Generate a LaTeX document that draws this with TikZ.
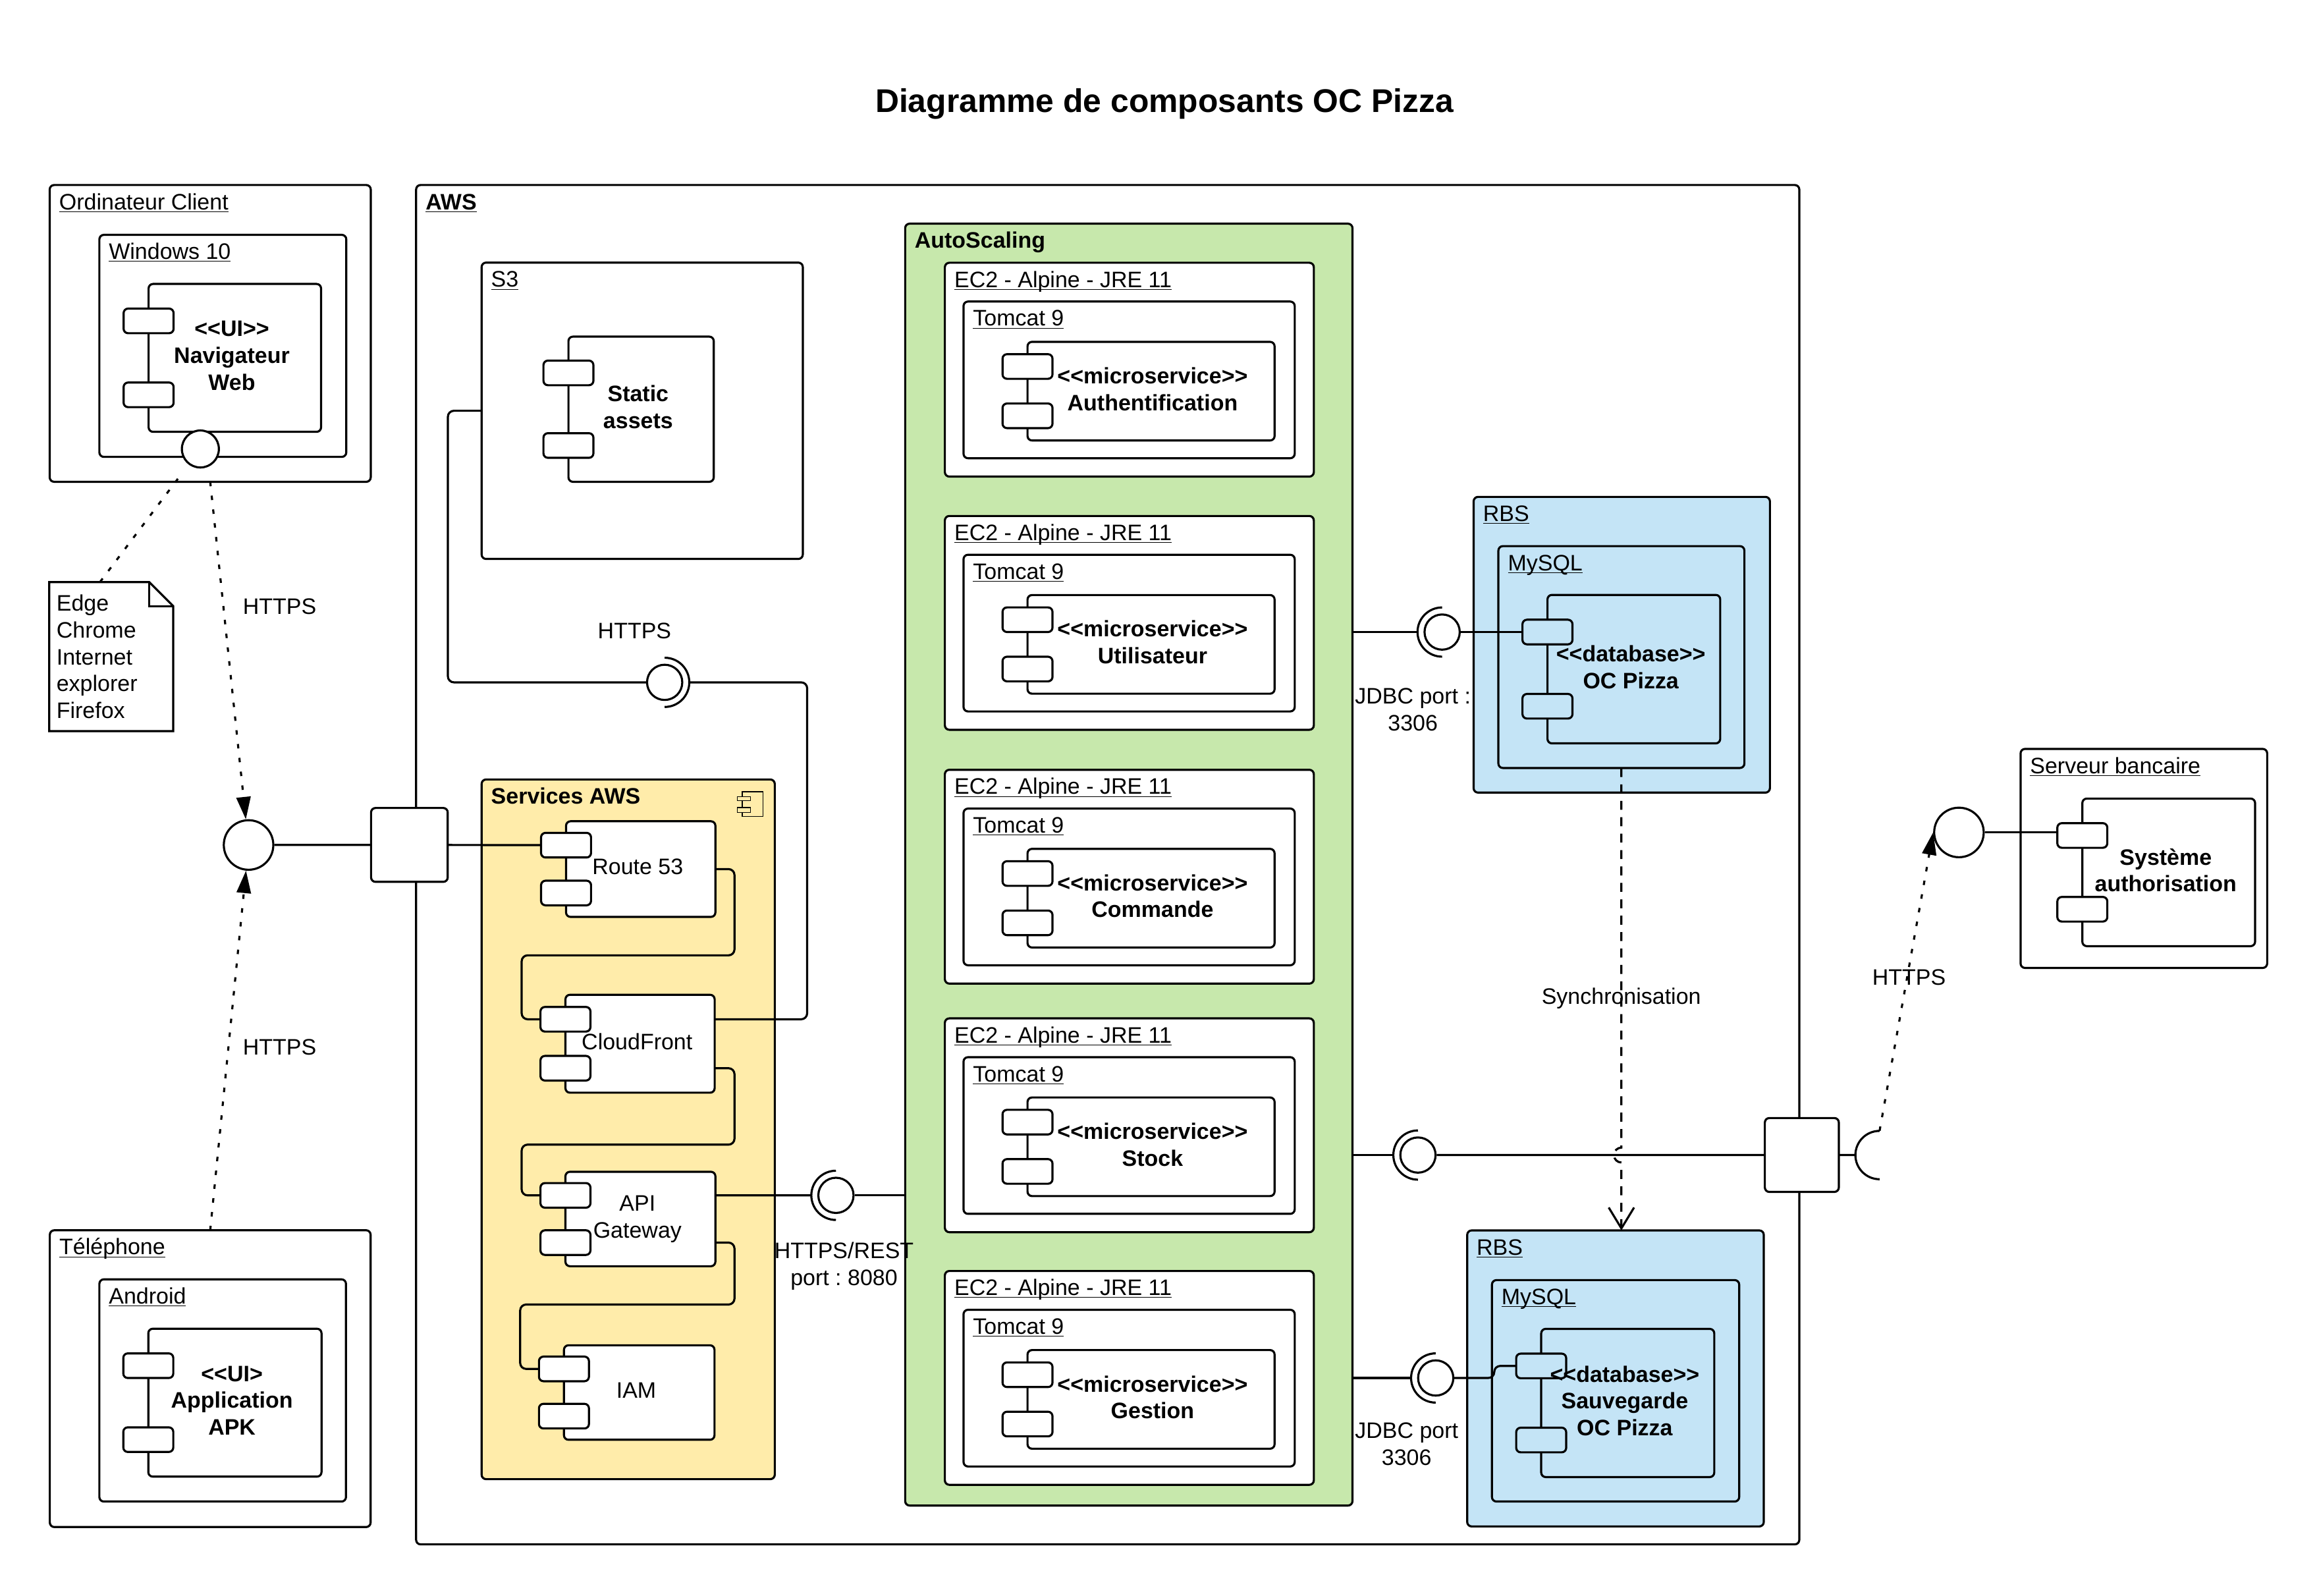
\documentclass[tikz,border=0pt]{standalone}
\usepackage{fontspec}
\setmainfont{Liberation Sans}
\usetikzlibrary{arrows.meta,calc}
\frenchspacing

\definecolor{svcyellow}{HTML}{FFECAA}
\definecolor{scalegreen}{HTML}{C7E8AC}
\definecolor{rbsblue}{HTML}{C4E4F6}

\tikzset{
  thickline/.style={line width=1.4pt},
  cbox/.style={thickline, draw, rounded corners=3pt, inner sep=0pt, outer sep=0pt},
  comp/.style={thickline, draw, rounded corners=3pt, inner sep=0pt, outer sep=0pt},
  port/.style={thickline, draw, rounded corners=3pt, minimum width=33.5pt, minimum height=16.5pt, inner sep=0pt, outer sep=0pt},
  ctext/.style={inner sep=0pt, text depth=0pt, align=center, xshift=-2pt, yshift=1.5pt},
  bld/.style={font=\fontsize{15}{18}\selectfont\bfseries},
  lbl/.style={inner sep=0pt, anchor=base west},
  txt/.style={inner sep=0pt, text depth=0pt, align=center},
  lollipop/.style={thickline, draw, circle, fill=white, inner sep=0pt, minimum size=33.2pt},
  sockc/.style={thickline, draw, circle, fill=white, inner sep=0pt, minimum size=23.6pt},
  conn/.style={thickline, rounded corners=4pt},
  dep/.style={thickline, dash pattern=on 3pt off 6.3pt, -{Triangle[length=15pt,width=9.5pt]}},
  sync/.style={thickline, dash pattern=on 6pt off 5pt, -{Straight Barb[length=14pt,width=17pt]}},
}

% container box: name, x1, y1, x2, y2
\newcommand{\mkbox}[6][]{%
  \node[cbox, #1, minimum width={(#5)-(#3)}, minimum height={(#6)-(#4)}, anchor=north west] (#2) at (#3,#4) {};}
% box title at the top left
\newcommand{\boxlbl}[3][]{%
  \node[lbl, #1] (#2-l) at ($(#2.north west)+(6.2,16.4)$) {#3};}
% component with its two ports: name, x1, y1, x2, y2, fill, text
\newcommand{\compo}[8][]{%
  \node[comp, fill=#7, minimum width={(#5)-(#3)}, minimum height={(#6)-(#4)}, anchor=north west] (#2) at (#3,#4) {};
  \node[port, fill=#7] (#2-p1) at ($(#2.north west)!0.25!(#2.south west)$) {};
  \node[port, fill=#7] (#2-p2) at ($(#2.north west)!0.75!(#2.south west)$) {};
  \node[ctext, #1] (#2-t) at (#2.center) {#8};}
% required interface: circle plus half arc
\newcommand{\sock}[4]{%
  \node[sockc] (#1) at (#2,#3) {};
  \draw[thickline] ($(#1)+(#4-90:16.5)$) arc[start angle=#4-90, end angle=#4+90, radius=16.5];
  \coordinate (#1-a) at ($(#1)+(#4:16.5)$);}
\newcommand{\undl}[1]{\underline{\smash{#1}}}
\newcommand{\stereo}[1]{<\kern0pt<#1>\kern0pt>}

\begin{document}
\begin{tikzpicture}[x=1pt, y=-1pt, font=\fontsize{15}{18}\selectfont]
  \useasboundingbox (0,0) rectangle (1553,1069.6);

  % Title
  \node[txt, font=\fontsize{22}{26}\selectfont\bfseries] (title) at (780.5,67.4) {Diagramme de composants OC Pizza};

  %% Client side
  % Ordinateur client
  \mkbox{ordi}{33.3}{124}{248.5}{322.9}
  \boxlbl{ordi}{\undl{Ordinateur Client}}
  \mkbox{win}{66.6}{157.4}{232.1}{306.2}
  \boxlbl{win}{\undl{Windows 10}}
  \compo[bld]{nav}{99.6}{190.3}{215.2}{289.4}{white}{\stereo{UI}\\Navigateur\\Web}
  \node[lollipop, minimum size=24.8pt] (nav-if) at (134.3,300.9) {};

  % Browsers note
  \node[anchor=north west, minimum width=82.7, minimum height=99.5, inner sep=0pt] (note) at (33,390.1) {};
  \draw[thickline] (note.north west) -- ($(note.north east)+(-16.1,0)$) -- ($(note.north east)+(0,16.1)$) -- (note.south east) -- (note.south west) -- cycle;
  \draw[thickline] ($(note.north east)+(-16.1,0)$) -- ($(note.north east)+(-16.1,16.1)$) -- ($(note.north east)+(0,16.1)$);
  \node[anchor=west, align=left, inner sep=0pt, text depth=0pt] (note-t) at (37.7,440) {Edge\\Chrome\\Internet\\explorer\\Firefox};
  \coordinate (note-c) at ($(note.north west)+(34,0)$);

  % Telephone
  \mkbox{tel}{33.4}{824.5}{248.4}{1023.4}
  \boxlbl{tel}{\undl{Téléphone}}
  \mkbox{andr}{66.6}{857.4}{231.9}{1006.3}
  \boxlbl{andr}{\undl{Android}}
  \compo[bld]{apk}{99.4}{890.5}{215.5}{989.6}{white}{<\kern0pt<UI>\\Application\\APK}

  % Client interface
  \node[lollipop] (cli-if) at (166.6,566.3) {};

  %% AWS
  \mkbox{aws}{278.9}{124}{1206}{1035}
  \boxlbl[font=\fontsize{15}{18}\selectfont\bfseries]{aws}{\undl{AWS}}

  % S3
  \mkbox{s3}{322.8}{176}{538.1}{374.6}
  \boxlbl{s3}{\undl{S3}}
  \compo[bld]{stat}{381}{225.6}{478.4}{322.9}{white}{Static\\assets}

  % Services AWS
  \mkbox[fill=svcyellow]{svc}{322.8}{522.4}{519.3}{991.3}
  \boxlbl[bld]{svc}{Services AWS}
  \draw[line width=0.7pt] (497.6,530.7) rectangle (511.4,547.1);
  \draw[line width=0.7pt, fill=svcyellow] (494.2,533.9) rectangle (503.1,536.6);
  \draw[line width=0.7pt, fill=svcyellow] (494.2,541.2) rectangle (503.1,544.5);
  \compo{r53}{379.4}{550.4}{479.5}{614.5}{white}{Route 53}
  \compo{cf}{379}{666.7}{479}{732.3}{white}{CloudFront}
  \compo{api}{379}{785.3}{479.5}{848.6}{white}{API\\Gateway}
  \compo{iam}{378}{901.6}{478.9}{964.9}{white}{IAM}

  % AutoScaling
  \mkbox[fill=scalegreen]{ascal}{606.7}{149.9}{906.5}{1009}
  \boxlbl[bld]{ascal}{AutoScaling}
  \foreach \k/\yy/\nm in {1/176.1/Authentification, 2/345.8/Utilisateur, 3/515.9/Commande, 4/682.5/Stock, 5/851.8/Gestion}{
    \mkbox[fill=white]{ec2-\k}{633.3}{\yy}{880.6}{\yy+143.3}
    \boxlbl{ec2-\k}{\undl{EC2 - Alpine - JRE 11}}
    \mkbox[fill=white]{tom-\k}{645.8}{\yy+26}{867.8}{\yy+131}
    \boxlbl{tom-\k}{\undl{Tomcat 9}}
    \compo[bld, xshift=3pt]{ms-\k}{688.7}{\yy+53}{854.3}{\yy+119.1}{white}{\stereo{microservice}\\\nm}
  }

  % RBS
  \mkbox[fill=rbsblue]{rbs1}{987.7}{333}{1186.3}{531.2}
  \boxlbl{rbs1}{\undl{RBS}}
  \mkbox[fill=rbsblue]{mysql1}{1004.3}{366}{1169.2}{514.7}
  \boxlbl{mysql1}{\undl{MySQL}}
  \compo[bld]{db1}{1037.2}{398.7}{1153}{498.2}{rbsblue}{\stereo{database}\\OC Pizza}

  \mkbox[fill=rbsblue]{rbs2}{983.4}{824.6}{1182.2}{1023}
  \boxlbl{rbs2}{\undl{RBS}}
  \mkbox[fill=rbsblue]{mysql2}{1000}{857.9}{1165.7}{1006.3}
  \boxlbl{mysql2}{\undl{MySQL}}
  \compo[bld]{db2}{1033}{890.6}{1149}{989.9}{rbsblue}{\stereo{database}\\Sauvegarde\\OC Pizza}

  % Serveur bancaire
  \mkbox{bank}{1354.3}{501.9}{1519.6}{648.7}
  \boxlbl{bank}{\undl{Serveur bancaire}}
  \compo[bld]{sys}{1395.7}{535.2}{1511.5}{634.1}{white}{Système\\authorisation}
  \node[lollipop] (bank-if) at (1313,557.9) {};

  % Ports of the AWS box
  \node[cbox, fill=white, minimum width=51.4, minimum height=49.5] (aws-in) at (274.4,566.25) {};
  \node[cbox, fill=white, minimum width=49.6, minimum height=49.5] (aws-out) at (1207.7,774.05) {};

  % Interfaces
  \sock{s3-sock}{445.5}{457.3}{0}
  \sock{api-sock}{560.3}{801.1}{180}
  \sock{db1-sock}{966.6}{423.6}{180}
  \sock{mid-sock}{950.4}{774.1}{180}
  \sock{db2-sock}{962.3}{923.5}{180}
  \coordinate (ext) at (1259.8,774.1);
  \coordinate (ext-top) at ($(ext)+(0,-16.2)$);
  \coordinate (ext-a) at ($(ext)+(-16.2,0)$);
  \draw[thickline] (ext-top) arc[start angle=270, end angle=90, radius=16.2];

  %% Connectors
  % Client side
  \draw[thickline, dash pattern=on 3pt off 6.3pt, shorten >=6.5pt] (note-c) -- (nav-if);
  \draw[dep] (ordi.south) -- (cli-if);
  \draw[dep] (tel.north) -- (cli-if);
  \draw[thickline] (cli-if) -- (aws-in);
  \draw[thickline] (aws-in) -- (r53-p1);

  % S3 to CloudFront
  \draw[conn] (s3.west) -- ++(-22.6,0) |- (s3-sock);
  \draw[conn] (s3-sock-a) -- ++(79,0) |- (cf-p1 -| cf.east);

  % Chain of services
  \draw[conn] (r53.east) -- ++(12.8,0) -- ++(0,57.8) -| ($(cf-p1.west)+(-12.6,0)$) -- (cf-p1.west);
  \draw[conn] (cf-p2 -| cf.east) -- ++(13.3,0) -- ++(0,51.2) -| ($(api-p1.west)+(-12.6,0)$) -- (api-p1.west);
  \draw[conn] (api-p2 -| api.east) -- ++(12.8,0) -- ++(0,41.5) -| ($(iam-p1.west)+(-12.6,0)$) -- (iam-p1.west);

  % API Gateway to AutoScaling
  \draw[thickline] (api-p1 -| api.east) -- (api-sock-a);
  \draw[thickline] (api-sock) -- (api-sock -| ascal.west);

  % JDBC
  \draw[thickline] (ascal.east |- db1-sock) -- (db1-sock-a);
  \draw[thickline] (db1-sock) -- (db1-sock -| db1-p1.west);
  \draw[thickline] (ascal.east |- db2-sock) -- (db2-sock-a);
  \draw[conn] (db2-sock) -- ($(db2-p1.west |- db2-sock)+(-14.7,0)$) |- (db2-p1.west);

  % To the bank server
  \draw[thickline] (ascal.east |- mid-sock) -- (mid-sock-a);
  \draw[thickline] (mid-sock) -- (aws-out);
  \draw[thickline] (aws-out) -- (ext-a);
  \draw[dep] (ext-top) -- (bank-if.west);
  \draw[thickline] (bank-if) -- (bank-if -| sys-p1.west);

  % Synchronisation
  \draw[sync] (mysql1.south) -- ($(mysql1.south |- mid-sock)+(0,-5)$) arc[start angle=270, end angle=90, radius=5] -- (mysql1.south |- rbs2.north);

  % Labels
  \node[txt] (https-l1) at (187.4,406.2) {HTTPS};
  \node[txt] (https-l2) at (187.4,701.9) {HTTPS};
  \node[txt] (https-l3) at (425.3,422.6) {HTTPS};
  \node[txt] (rest-l) at (565.7,847) {HTTPS/REST\\port : 8080};
  \node[txt] (jdbc-l1) at (947,475.4) {JDBC port :\\3306};
  \node[txt] (jdbc-l2) at (942.8,967.8) {JDBC port\\3306};
  \node[txt] (sync-l) at (1086.7,667.7) {Synchronisation};
  \node[txt] (https-l4) at (1279.5,654.9) {HTTPS};

\end{tikzpicture}
\end{document}
